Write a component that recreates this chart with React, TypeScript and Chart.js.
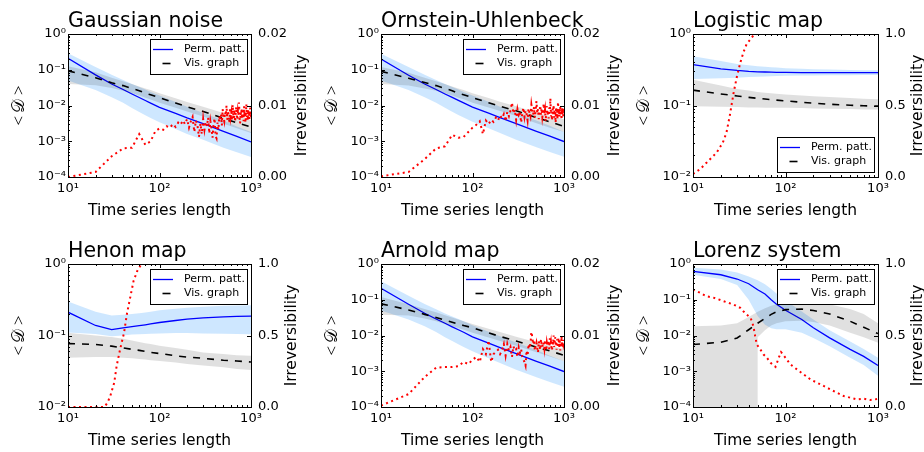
import React, { useEffect, useRef } from "react";
import { Chart, registerables } from "chart.js";

Chart.register(...registerables);

const FONT = "'DejaVu Sans', 'Bitstream Vera Sans', sans-serif";
const SERIF = "'Liberation Serif', 'DejaVu Serif', serif";
const W = 924;
const H = 452;
const YW = 40;
const Y2W = 40;
const XH = 30;

// ---------- x grids ----------
const X_D = [10, 20, 30, 40, 50, 60, 70, 80, 100, 150, 200, 300, 500, 700, 1000];
const X_IRR = Array.from({ length: 100 }, (_, i) => (i + 1) * 10);
const X_TICKS = [10, 20, 30, 40, 50, 60, 70, 80, 90, 100, 200, 300, 400, 500, 600, 700, 800, 900, 1000];

// ---------- Gaussian noise ----------
const GAUSS_PERM = [0.21, 0.072, 0.04, 0.028, 0.021, 0.0167, 0.0138, 0.0117, 0.0089, 0.006, 0.0045, 0.0031, 0.0019, 0.00137, 0.00096];
const GAUSS_PERM_HI = [0.29, 0.12, 0.072, 0.052, 0.04, 0.033, 0.028, 0.024, 0.019, 0.0125, 0.0092, 0.0062, 0.0038, 0.0026, 0.0018];
const GAUSS_PERM_LO = [0.05, 0.027, 0.017, 0.012, 0.0085, 0.0066, 0.0053, 0.0045, 0.0034, 0.0022, 0.0016, 0.0011, 0.00066, 0.00049, 0.00036];
const GAUSS_VIS = [0.093, 0.06, 0.043, 0.036, 0.03, 0.026, 0.022, 0.02, 0.0165, 0.0118, 0.0092, 0.0068, 0.0044, 0.0033, 0.0025];
const GAUSS_VIS_HI = [0.125, 0.085, 0.06, 0.048, 0.04, 0.034, 0.03, 0.027, 0.022, 0.016, 0.0125, 0.0092, 0.0062, 0.0049, 0.004];
const GAUSS_VIS_LO = [0.04, 0.037, 0.031, 0.026, 0.022, 0.019, 0.0165, 0.0148, 0.012, 0.0086, 0.0068, 0.0049, 0.0031, 0.0023, 0.0017];
const GAUSS_IRR = [
  0.0, 0.0007, 0.0029, 0.004, 0.0041, 0.006, 0.0045, 0.005, 0.0064, 0.0068,
  0.0066, 0.0071, 0.0069, 0.0074, 0.007, 0.0076, 0.0073, 0.0079, 0.0074, 0.0081,
  0.0069, 0.0078, 0.0084, 0.0063, 0.0079, 0.0072, 0.0056, 0.0075, 0.006, 0.0081,
  0.0066, 0.0077, 0.0071, 0.0083, 0.0061, 0.0078, 0.0068, 0.0055, 0.0074, 0.0082,
  0.0057, 0.0054, 0.0076, 0.0066, 0.0085, 0.0079, 0.0088, 0.0072, 0.0095, 0.0083,
  0.0078, 0.0091, 0.0086, 0.01, 0.008, 0.0093, 0.0087, 0.0076, 0.0097, 0.0084,
  0.009, 0.0079, 0.0101, 0.0088, 0.0082, 0.0094, 0.0077, 0.0089, 0.0098, 0.0085,
  0.008, 0.0092, 0.0087, 0.0104, 0.0083, 0.0075, 0.009, 0.0086, 0.0096, 0.0081,
  0.0088, 0.0093, 0.0078, 0.0099, 0.0085, 0.0091, 0.0076, 0.0087, 0.0102, 0.0084,
  0.009, 0.0079, 0.0095, 0.0086, 0.0092, 0.0081, 0.0089, 0.0097, 0.0083, 0.0088,
];

// ---------- Ornstein-Uhlenbeck ----------
const OU_PERM = [0.2, 0.07, 0.04, 0.028, 0.021, 0.0168, 0.0139, 0.0118, 0.009, 0.0061, 0.0046, 0.0031, 0.0019, 0.0014, 0.00098];
const OU_PERM_HI = [0.28, 0.12, 0.072, 0.052, 0.04, 0.033, 0.028, 0.024, 0.019, 0.0127, 0.0093, 0.0063, 0.0038, 0.0027, 0.0018];
const OU_PERM_LO = [0.05, 0.027, 0.017, 0.012, 0.0086, 0.0067, 0.0054, 0.0046, 0.0035, 0.0023, 0.0017, 0.0011, 0.00068, 0.0005, 0.00037];
const OU_VIS = [0.09, 0.058, 0.044, 0.036, 0.03, 0.026, 0.022, 0.02, 0.0165, 0.012, 0.0095, 0.0071, 0.0046, 0.0035, 0.0026];
const OU_VIS_HI = [0.12, 0.082, 0.06, 0.048, 0.04, 0.034, 0.03, 0.027, 0.022, 0.0162, 0.0128, 0.0095, 0.0064, 0.0051, 0.0041];
const OU_VIS_LO = [0.04, 0.036, 0.03, 0.026, 0.022, 0.019, 0.0165, 0.015, 0.012, 0.0088, 0.007, 0.0051, 0.0032, 0.0024, 0.0018];
const OU_IRR = [
  0.0001, 0.0007, 0.0025, 0.004, 0.0043, 0.0059, 0.0055, 0.0056, 0.0063, 0.0069,
  0.0073, 0.0078, 0.006, 0.0079, 0.0074, 0.008, 0.0077, 0.0083, 0.0079, 0.0086,
  0.0082, 0.0088, 0.0078, 0.0091, 0.0085, 0.0093, 0.0104, 0.0089, 0.0094, 0.008,
  0.0095, 0.0087, 0.0091, 0.0076, 0.0089, 0.0097, 0.0084, 0.0093, 0.0088, 0.0079,
  0.0096, 0.009, 0.0085, 0.0101, 0.0092, 0.0087, 0.0098, 0.0083, 0.0094, 0.0106,
  0.0089, 0.0095, 0.0081, 0.0092, 0.01, 0.0087, 0.0096, 0.0084, 0.0091, 0.0103,
  0.0088, 0.0094, 0.0078, 0.009, 0.0099, 0.0086, 0.0093, 0.0082, 0.0097, 0.0089,
  0.011, 0.0085, 0.0092, 0.0079, 0.0096, 0.0088, 0.0101, 0.0083, 0.0094, 0.009,
  0.0076, 0.0098, 0.0087, 0.0093, 0.0081, 0.0105, 0.0089, 0.0095, 0.0084, 0.0092,
  0.0099, 0.0086, 0.0091, 0.008, 0.0097, 0.0088, 0.0094, 0.0085, 0.0096, 0.009,
];

// ---------- Logistic map ----------
const LOGI_PERM = [0.374, 0.326, 0.309, 0.3, 0.296, 0.294, 0.292, 0.291, 0.29, 0.289, 0.289, 0.288, 0.288, 0.288, 0.288];
const LOGI_PERM_HI = [0.49, 0.42, 0.38, 0.365, 0.355, 0.348, 0.343, 0.339, 0.333, 0.326, 0.322, 0.318, 0.314, 0.312, 0.31];
const LOGI_PERM_LO = [0.235, 0.24, 0.245, 0.25, 0.253, 0.255, 0.257, 0.258, 0.26, 0.262, 0.263, 0.264, 0.265, 0.266, 0.266];
const LOGI_VIS = [0.164, 0.145, 0.136, 0.13, 0.126, 0.123, 0.121, 0.119, 0.116, 0.111, 0.108, 0.104, 0.101, 0.099, 0.098];
const LOGI_VIS_HI = [0.23, 0.19, 0.17, 0.162, 0.155, 0.151, 0.148, 0.146, 0.143, 0.138, 0.135, 0.131, 0.127, 0.124, 0.122];
const LOGI_VIS_LO = [0.098, 0.096, 0.095, 0.094, 0.094, 0.093, 0.093, 0.093, 0.093, 0.092, 0.091, 0.09, 0.089, 0.088, 0.088];
const LOGI_IRR_X = [10, 12, 14, 18, 21, 23, 25, 27.5, 30, 32.5, 35, 38, 42, 45, 49, 55, 1000];
const LOGI_IRR = [0.021, 0.056, 0.1, 0.17, 0.24, 0.31, 0.43, 0.59, 0.71, 0.8, 0.87, 0.93, 0.965, 0.99, 1.0, 1.0, 1.0];

// ---------- Henon map ----------
const HENON_PERM = [0.212, 0.138, 0.121, 0.128, 0.133, 0.137, 0.141, 0.145, 0.152, 0.162, 0.17, 0.176, 0.182, 0.185, 0.187];
const HENON_PERM_HI = [0.3, 0.215, 0.19, 0.195, 0.2, 0.205, 0.21, 0.215, 0.225, 0.237, 0.245, 0.252, 0.26, 0.263, 0.265];
const HENON_PERM_LO = [0.11, 0.105, 0.098, 0.1, 0.103, 0.104, 0.105, 0.106, 0.107, 0.108, 0.108, 0.107, 0.106, 0.105, 0.104];
const HENON_VIS = [0.077, 0.075, 0.071, 0.067, 0.064, 0.062, 0.06, 0.058, 0.056, 0.052, 0.05, 0.048, 0.045, 0.044, 0.0425];
const HENON_VIS_HI = [0.109, 0.1, 0.095, 0.09, 0.085, 0.081, 0.078, 0.076, 0.072, 0.067, 0.063, 0.058, 0.055, 0.053, 0.052];
const HENON_VIS_LO = [0.049, 0.05, 0.05, 0.049, 0.048, 0.047, 0.046, 0.045, 0.044, 0.042, 0.04, 0.038, 0.036, 0.034, 0.033];
const HENON_IRR_X = [10, 20, 25, 27, 29, 32, 34, 37, 41, 44, 48, 52, 57, 62, 67, 1000];
const HENON_IRR = [0, 0, 0, 0.03, 0.077, 0.17, 0.286, 0.4, 0.52, 0.65, 0.77, 0.88, 0.95, 0.99, 1.0, 1.0];

// ---------- Arnold map ----------
const ARNOLD_PERM = [0.21, 0.075, 0.042, 0.029, 0.022, 0.0175, 0.0145, 0.0123, 0.0092, 0.0061, 0.0046, 0.0031, 0.0019, 0.0014, 0.00098];
const ARNOLD_PERM_HI = [0.33, 0.13, 0.076, 0.054, 0.041, 0.034, 0.029, 0.025, 0.0195, 0.0128, 0.0095, 0.0064, 0.0039, 0.0027, 0.0019];
const ARNOLD_PERM_LO = [0.05, 0.028, 0.018, 0.0125, 0.009, 0.007, 0.0057, 0.0048, 0.0036, 0.0023, 0.0017, 0.0011, 0.00068, 0.0005, 0.00037];
const ARNOLD_VIS = [0.077, 0.052, 0.039, 0.032, 0.027, 0.0235, 0.021, 0.019, 0.0165, 0.0118, 0.0094, 0.007, 0.0047, 0.0037, 0.0028];
const ARNOLD_VIS_HI = [0.12, 0.075, 0.055, 0.045, 0.037, 0.032, 0.028, 0.025, 0.021, 0.0155, 0.0125, 0.0093, 0.0065, 0.0052, 0.0042];
const ARNOLD_VIS_LO = [0.038, 0.036, 0.03, 0.025, 0.021, 0.0185, 0.0162, 0.0145, 0.012, 0.0088, 0.007, 0.0052, 0.0034, 0.0026, 0.0019];
const ARNOLD_IRR = [
  0.0002, 0.0018, 0.0042, 0.0055, 0.0056, 0.0056, 0.0057, 0.0063, 0.006, 0.0066,
  0.007, 0.0063, 0.0081, 0.0074, 0.0093, 0.0063, 0.0074, 0.0077, 0.008, 0.0074,
  0.0079, 0.0088, 0.0072, 0.0088, 0.0079, 0.0084, 0.007, 0.0085, 0.0079, 0.0081,
  0.007, 0.0083, 0.0076, 0.0081, 0.007, 0.0066, 0.0063, 0.0058, 0.0079, 0.0072,
  0.0088, 0.0082, 0.0088, 0.0105, 0.0098, 0.0088, 0.0094, 0.0079, 0.0085, 0.009,
  0.0083, 0.0076, 0.0092, 0.0086, 0.008, 0.0095, 0.0088, 0.0084, 0.0091, 0.0089,
  0.0082, 0.0094, 0.0087, 0.0079, 0.009, 0.0085, 0.0093, 0.0088, 0.0081, 0.0096,
  0.0086, 0.0091, 0.0083, 0.0079, 0.0093, 0.0087, 0.01, 0.0084, 0.009, 0.0098,
  0.0085, 0.0092, 0.008, 0.0095, 0.0088, 0.0083, 0.0097, 0.0089, 0.0084, 0.0093,
  0.0079, 0.009, 0.0086, 0.0099, 0.0085, 0.0091, 0.0082, 0.0094, 0.0087, 0.0089,
];

// ---------- Lorenz system ----------
const LOR_PERM = [0.62, 0.5, 0.38, 0.28, 0.19, 0.145, 0.1, 0.075, 0.051, 0.028, 0.0164, 0.0086, 0.0041, 0.0026, 0.00145];
const LOR_PERM_HI = [0.78, 0.7, 0.58, 0.45, 0.35, 0.27, 0.2, 0.15, 0.095, 0.047, 0.028, 0.014, 0.0068, 0.0042, 0.0024];
const LOR_PERM_LO = [0.5, 0.38, 0.26, 0.1, 0.035, 0.02, 0.016, 0.015, 0.015, 0.012, 0.0085, 0.005, 0.0024, 0.0015, 0.00075];
const LOR_VIS = [0.0056, 0.0065, 0.0085, 0.0145, 0.022, 0.03, 0.039, 0.046, 0.053, 0.055, 0.05, 0.04, 0.025, 0.017, 0.0113];
const LOR_VIS_HI = [0.018, 0.019, 0.022, 0.033, 0.046, 0.058, 0.068, 0.075, 0.083, 0.088, 0.085, 0.075, 0.055, 0.04, 0.022];
const LOR_VIS_LO_X = [10, 50, 50, 60, 70, 80, 100, 150, 200, 300, 500, 700, 1000];
const LOR_VIS_LO = [1e-9, 1e-9, 0.009, 0.014, 0.019, 0.022, 0.025, 0.026, 0.024, 0.019, 0.012, 0.009, 0.0063];
const LOR_IRR_X = [10, 12, 14, 17, 20, 23, 27.5, 32.5, 35, 38, 42, 45, 47, 49, 53.5, 58, 63, 69, 75, 78, 84.5, 89.5, 94, 100, 113, 133, 157, 186, 219, 258, 305, 360, 425, 502, 592, 699, 825, 1000];
const LOR_IRR = [0.821, 0.798, 0.774, 0.763, 0.747, 0.733, 0.716, 0.693, 0.67, 0.647, 0.623, 0.565, 0.495, 0.437, 0.402, 0.367, 0.344, 0.309, 0.29, 0.281, 0.344, 0.384, 0.367, 0.344, 0.298, 0.263, 0.228, 0.193, 0.17, 0.147, 0.123, 0.1, 0.077, 0.065, 0.053, 0.058, 0.049, 0.056];

// ---------- labels ----------
const X_TITLE = "Time series length";
const Y_TITLE = "<\u2009\u{1D49F}\u2009>";
const Y2_TITLE = "Irreversibility";
const LEGEND_LABELS = ["Perm. patt.", "Vis. graph"];

type Panel = {
  title: string;
  box: [number, number, number, number];
  yMinExp: number;
  y2Max: number;
  y2Dec: number;
  legend: "top" | "bottom";
  r2: number;
  perm: number[];
  permHi: number[];
  permLo: number[];
  vis: number[];
  visHi: number[];
  visLo: number[];
  visLoX?: number[];
  irrX: number[];
  irr: number[];
};

const PANELS: Panel[] = [
  { title: "Gaussian noise", box: [68, 34, 251, 177], yMinExp: -4, y2Max: 0.02, y2Dec: 2, legend: "top", r2: 51,
    perm: GAUSS_PERM, permHi: GAUSS_PERM_HI, permLo: GAUSS_PERM_LO, vis: GAUSS_VIS, visHi: GAUSS_VIS_HI, visLo: GAUSS_VIS_LO, irrX: X_IRR, irr: GAUSS_IRR },
  { title: "Ornstein-Uhlenbeck", box: [381, 34, 564, 177], yMinExp: -4, y2Max: 0.02, y2Dec: 2, legend: "top", r2: 51,
    perm: OU_PERM, permHi: OU_PERM_HI, permLo: OU_PERM_LO, vis: OU_VIS, visHi: OU_VIS_HI, visLo: OU_VIS_LO, irrX: X_IRR, irr: OU_IRR },
  { title: "Logistic map", box: [693, 34, 878, 177], yMinExp: -2, y2Max: 1, y2Dec: 1, legend: "bottom", r2: 40,
    perm: LOGI_PERM, permHi: LOGI_PERM_HI, permLo: LOGI_PERM_LO, vis: LOGI_VIS, visHi: LOGI_VIS_HI, visLo: LOGI_VIS_LO, irrX: LOGI_IRR_X, irr: LOGI_IRR },
  { title: "Henon map", box: [68, 264, 251, 407], yMinExp: -2, y2Max: 1, y2Dec: 1, legend: "top", r2: 41,
    perm: HENON_PERM, permHi: HENON_PERM_HI, permLo: HENON_PERM_LO, vis: HENON_VIS, visHi: HENON_VIS_HI, visLo: HENON_VIS_LO, irrX: HENON_IRR_X, irr: HENON_IRR },
  { title: "Arnold map", box: [381, 264, 564, 407], yMinExp: -4, y2Max: 0.02, y2Dec: 2, legend: "top", r2: 51,
    perm: ARNOLD_PERM, permHi: ARNOLD_PERM_HI, permLo: ARNOLD_PERM_LO, vis: ARNOLD_VIS, visHi: ARNOLD_VIS_HI, visLo: ARNOLD_VIS_LO, irrX: X_IRR, irr: ARNOLD_IRR },
  { title: "Lorenz system", box: [693, 264, 878, 407], yMinExp: -4, y2Max: 1, y2Dec: 1, legend: "top", r2: 40,
    perm: LOR_PERM, permHi: LOR_PERM_HI, permLo: LOR_PERM_LO, vis: LOR_VIS, visHi: LOR_VIS_HI, visLo: LOR_VIS_LO, visLoX: LOR_VIS_LO_X, irrX: LOR_IRR_X, irr: LOR_IRR },
];

const SUP: Record<string, string> = { "-": "\u207B", "0": "\u2070", "1": "\u00B9", "2": "\u00B2", "3": "\u00B3", "4": "\u2074", "5": "\u2075", "6": "\u2076", "7": "\u2077", "8": "\u2078", "9": "\u2079" };

function isPow10(v: number) {
  const e = Math.round(Math.log10(v));
  return Math.abs(v / Math.pow(10, e) - 1) < 1e-6;
}
function logLabel(v: number) {
  if (!isPow10(v)) return "";
  const e = Math.round(Math.log10(v));
  return "10" + String(e).split("").map((c) => SUP[c]).join("");
}
function logTicks(minExp: number) {
  const out: number[] = [];
  for (let e = minExp; e < 0; e++) for (let m = 1; m <= 9; m++) out.push(m * Math.pow(10, e));
  out.push(1);
  return out;
}

function buildConfig(p: Panel): any {
  const [L, T, R, B] = p.box;
  const pts = (xs: number[], ys: number[]) => xs.map((x, i) => ({ x, y: ys[i] }));
  const base = { pointRadius: 0, pointHoverRadius: 0, tension: 0, yAxisID: "y" };
  const none = "rgba(0,0,0,0)";
  const datasets = [
    { ...base, label: "irr", data: pts(p.irrX, p.irr), yAxisID: "y2", borderColor: "#ff0000", borderWidth: 2, borderDash: [2, 3.5], borderCapStyle: "butt", fill: false },
    { ...base, label: "vis", data: pts(X_D, p.vis), borderColor: "#000000", borderWidth: 1.6, borderDash: [7, 7], fill: false },
    { ...base, label: "visHi", data: pts(X_D, p.visHi), borderColor: none, borderWidth: 0, backgroundColor: "rgba(0,0,0,0.12)", fill: "+1" },
    { ...base, label: "visLo", data: pts(p.visLoX || X_D, p.visLo), borderColor: none, borderWidth: 0, fill: false },
    { ...base, label: "perm", data: pts(X_D, p.perm), borderColor: "#0000ff", borderWidth: 1.3, fill: false },
    { ...base, label: "permHi", data: pts(X_D, p.permHi), borderColor: none, borderWidth: 0, backgroundColor: "rgba(30,144,255,0.22)", fill: "+1" },
    { ...base, label: "permLo", data: pts(X_D, p.permLo), borderColor: none, borderWidth: 0, fill: false },
  ];
  const yTicks = logTicks(p.yMinExp);
  const y2Ticks = [0, p.y2Max / 2, p.y2Max];
  const tickFont = { family: FONT, size: 13 };

  const decor = {
    id: "decor",
    afterDatasetsDraw(chart: any) {
      const { ctx, chartArea: a, scales } = chart;
      ctx.save();
      ctx.strokeStyle = "#000";
      ctx.lineWidth = 1;
      ctx.beginPath();
      for (const t of scales.x.ticks) {
        const px = Math.round(scales.x.getPixelForValue(t.value)) + 0.5;
        const len = isPow10(t.value) ? 4 : 2;
        ctx.moveTo(px, a.bottom);
        ctx.lineTo(px, a.bottom - len);
        ctx.moveTo(px, a.top);
        ctx.lineTo(px, a.top + len);
      }
      for (const t of scales.y.ticks) {
        const py = Math.round(scales.y.getPixelForValue(t.value)) + 0.5;
        const len = isPow10(t.value) ? 4 : 2;
        ctx.moveTo(a.left, py);
        ctx.lineTo(a.left + len, py);
      }
      for (const t of scales.y2.ticks) {
        const py = Math.round(scales.y2.getPixelForValue(t.value)) + 0.5;
        ctx.moveTo(a.right, py);
        ctx.lineTo(a.right - 4, py);
      }
      ctx.stroke();
      ctx.strokeRect(a.left + 0.5, a.top + 0.5, a.right - a.left, a.bottom - a.top);
      ctx.restore();
    },
    afterDraw(chart: any) {
      const { ctx, chartArea: a } = chart;
      ctx.save();
      // legend
      const lw = 97, lh = 35;
      const lx = Math.round(a.right - 4 - lw);
      const ly = Math.round(p.legend === "top" ? a.top + 5 : a.bottom - 5 - lh);
      ctx.fillStyle = "#fff";
      ctx.fillRect(lx, ly, lw, lh);
      ctx.strokeStyle = "#000";
      ctx.lineWidth = 1;
      ctx.strokeRect(lx + 0.5, ly + 0.5, lw, lh);
      ctx.beginPath();
      ctx.strokeStyle = "#0000ff";
      ctx.lineWidth = 1.3;
      ctx.moveTo(lx + 3, ly + 10.5);
      ctx.lineTo(lx + 23, ly + 10.5);
      ctx.stroke();
      ctx.beginPath();
      ctx.strokeStyle = "#000";
      ctx.lineWidth = 1.6;
      ctx.moveTo(lx + 12.5, ly + 24.5);
      ctx.lineTo(lx + 20.5, ly + 24.5);
      ctx.stroke();
      ctx.fillStyle = "#000";
      ctx.font = `11px ${FONT}`;
      ctx.textAlign = "left";
      ctx.textBaseline = "middle";
      ctx.fillText(LEGEND_LABELS[0], lx + 34, ly + 10.5);
      ctx.fillText(LEGEND_LABELS[1], lx + 34, ly + 24.5);
      // title
      ctx.font = `20.5px ${FONT}`;
      ctx.textBaseline = "alphabetic";
      ctx.fillText(p.title, a.left, a.top - 7);
      // x title
      ctx.font = `15.5px ${FONT}`;
      ctx.textAlign = "center";
      ctx.fillText(X_TITLE, (a.left + a.right) / 2, a.bottom + 38);
      const midY = (a.top + a.bottom) / 2;
      // left y title
      ctx.save();
      ctx.translate(a.left - 48, midY);
      ctx.rotate(-Math.PI / 2);
      ctx.textBaseline = "middle";
      ctx.font = `17px ${SERIF}`;
      ctx.fillText(Y_TITLE, 0, 0);
      ctx.restore();
      // right y title
      ctx.save();
      ctx.translate(a.right + p.r2, midY);
      ctx.rotate(-Math.PI / 2);
      ctx.textBaseline = "middle";
      ctx.font = `15.5px ${FONT}`;
      ctx.fillText(Y2_TITLE, 0, 0);
      ctx.restore();
      ctx.restore();
    },
  };

  return {
    type: "line",
    data: { datasets },
    plugins: [decor],
    options: {
      responsive: false,
      animation: false,
      devicePixelRatio: 1,
      events: [],
      layout: { padding: { left: L - YW, right: W - R - Y2W, top: T, bottom: H - B - XH } },
      plugins: { legend: { display: false }, tooltip: { enabled: false }, title: { display: false } },
      scales: {
        x: {
          type: "logarithmic",
          min: 10,
          max: 1000,
          grid: { display: false, drawTicks: false },
          border: { display: false },
          afterBuildTicks: (s: any) => { s.ticks = X_TICKS.map((v) => ({ value: v })); },
          afterFit: (s: any) => { s.height = XH; },
          ticks: { autoSkip: false, maxRotation: 0, minRotation: 0, padding: 4, color: "#000", font: tickFont, callback: (v: any) => logLabel(Number(v)) },
        },
        y: {
          type: "logarithmic",
          position: "left",
          min: Math.pow(10, p.yMinExp),
          max: 1,
          grid: { display: false, drawTicks: false },
          border: { display: false },
          afterBuildTicks: (s: any) => { s.ticks = yTicks.map((v) => ({ value: v })); },
          afterFit: (s: any) => { s.width = YW; },
          ticks: { autoSkip: false, padding: 2, color: "#000", font: tickFont, callback: (v: any) => logLabel(Number(v)) },
        },
        y2: {
          type: "linear",
          position: "right",
          min: 0,
          max: p.y2Max,
          grid: { display: false, drawTicks: false },
          border: { display: false },
          afterBuildTicks: (s: any) => { s.ticks = y2Ticks.map((v) => ({ value: v })); },
          afterFit: (s: any) => { s.width = Y2W; },
          ticks: { autoSkip: false, padding: 7, color: "#000", font: tickFont, callback: (v: any) => Number(v).toFixed(p.y2Dec) },
        },
      },
    },
  };
}

function PanelChart({ panel }: { panel: Panel }) {
  const ref = useRef<HTMLCanvasElement | null>(null);
  useEffect(() => {
    if (!ref.current) return;
    const chart = new Chart(ref.current, buildConfig(panel));
    return () => chart.destroy();
  }, [panel]);
  return (
    <canvas
      ref={ref}
      width={W}
      height={H}
      style={{ position: "absolute", left: 0, top: 0, width: W, height: H, pointerEvents: "none" }}
    />
  );
}

export default function App() {
  return (
    <div style={{ position: "absolute", left: 0, top: 0, width: W, height: H, background: "#fff", overflow: "hidden" }}>
      {PANELS.map((p) => (
        <PanelChart key={p.title} panel={p} />
      ))}
    </div>
  );
}
